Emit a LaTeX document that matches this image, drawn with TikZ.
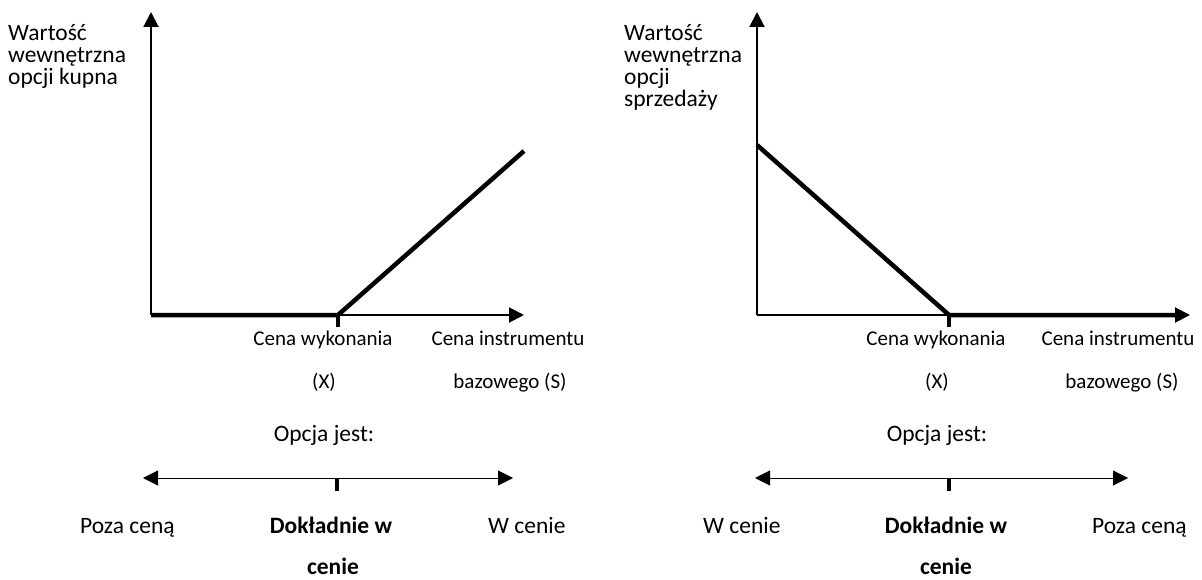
\documentclass[tikz,border=0pt]{standalone}
\usepackage{fontspec}
\setmainfont{Carlito}
\usetikzlibrary{arrows.meta}
\begin{document}
\begin{tikzpicture}[x=1pt,y=-1pt,
  axis/.style={line width=2pt,-{Triangle[length=15pt,width=15pt]}},
  payoff/.style={line width=4.5pt,line cap=butt,line join=miter},
  tickmark/.style={line width=4.5pt},
  spanline/.style={line width=1pt,{Triangle[length=15pt,width=15pt]}-{Triangle[length=15pt,width=15pt]}},
  big/.style={inner sep=0pt,font=\fontsize{23.5}{26}\selectfont},
  small/.style={inner sep=0pt,font=\fontsize{21}{24}\selectfont,anchor=base},
  lw/.style={big,anchor=base west},
  lc/.style={big,anchor=base},
  lb/.style={big,anchor=base,font=\fontsize{23.5}{26}\selectfont\bfseries}]
\useasboundingbox (0,0) rectangle (1202,580);

% ---------- left chart (call) ----------
\coordinate (O1) at (151,315);
\coordinate (Y1) at (151,12);
\coordinate (X1) at (524,315);
\coordinate (K1) at (338,315);
\coordinate (KB1) at (338,327);
\coordinate (E1) at (524,151);
\draw[payoff] (O1) -- (K1) -- (E1);
\draw[axis] (O1) -- (Y1);
\draw[axis] (O1) -- (X1);
\draw[tickmark] (K1) -- (KB1);

\node[lw] (a1) at (8,41) {Wartość};
\node[lw] (a2) at (8,63) {wewnętrzna};
\node[lw] (a3) at (8,85) {opcji kupna};

\node[small] (c1) at (323,345) {Cena wykonania};
\node[small] (c2) at (324,388) {(X)};
\node[small] (c3) at (508,345) {Cena instrumentu};
\node[small] (c4) at (510,388) {bazowego (S)};

\node[lc] (o1) at (324,441) {Opcja jest:};
\coordinate (RL1) at (143,478);
\coordinate (RR1) at (513,478);
\coordinate (RT1) at (337,478);
\coordinate (RTB1) at (337,491);
\draw[spanline] (RL1) -- (RR1);
\draw[tickmark] (RT1) -- (RTB1);

\node[lw] (p1) at (80,533) {Poza ceną};
\node[lb] (d1) at (331,533) {Dokładnie w};
\node[lb] (d2) at (333,574) {cenie};
\node[lw] (w1) at (488,533) {W cenie};

% ---------- right chart (put) ----------
\coordinate (O2) at (757,315);
\coordinate (Y2) at (757,12);
\coordinate (X2) at (1190,315);
\coordinate (K2) at (949,315);
\coordinate (KB2) at (949,327);
\coordinate (S2) at (757,145);
\coordinate (T2) at (1178,315);
\draw[payoff] (S2) -- (K2) -- (T2);
\draw[axis] (O2) -- (Y2);
\draw[axis] (O2) -- (X2);
\draw[tickmark] (K2) -- (KB2);

\node[lw] (b1) at (624,41) {Wartość};
\node[lw] (b2) at (624,63) {wewnętrzna};
\node[lw] (b3) at (624,85) {opcji};
\node[lw] (b4) at (624,107) {sprzedaży};

\node[small] (e1) at (936,345) {Cena wykonania};
\node[small] (e2) at (937,388) {(X)};
\node[small] (e3) at (1118,345) {Cena instrumentu};
\node[small] (e4) at (1122,388) {bazowego (S)};

\node[lc] (o2) at (937,441) {Opcja jest:};
\coordinate (RL2) at (755,478);
\coordinate (RR2) at (1128,478);
\coordinate (RT2) at (949,478);
\coordinate (RTB2) at (949,491);
\draw[spanline] (RL2) -- (RR2);
\draw[tickmark] (RT2) -- (RTB2);

\node[lw] (w2) at (703,533) {W cenie};
\node[lb] (d3) at (946,533) {Dokładnie w};
\node[lb] (d4) at (946,574) {cenie};
\node[lw] (p2) at (1092,533) {Poza ceną};
\end{tikzpicture}
\end{document}
